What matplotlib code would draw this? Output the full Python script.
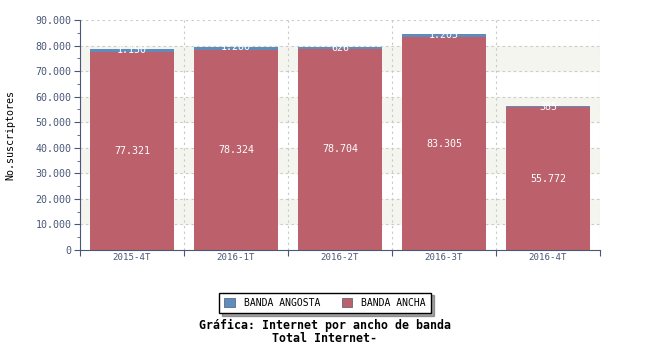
import matplotlib.pyplot as plt
import numpy as np
from matplotlib.ticker import FuncFormatter, MultipleLocator
from matplotlib.patches import Patch

periodos = ["2015-4T", "2016-1T", "2016-2T", "2016-3T", "2016-4T"]
banda_ancha = [77321, 78324, 78704, 83305, 55772]
banda_angosta = [1150, 1280, 626, 1205, 385]

rojo = "#bc616b"
azul = "#5f8cba"
eje = "#4a5878"
plt.rcParams['font.family'] = ['DejaVu Sans Mono']

fig = plt.figure(figsize=(6.5, 3.5), dpi=100)
ax = fig.add_axes([80/650, 1-250/350, 520/650, 230/350])

x = np.arange(len(periodos))
# franjas de fondo
for y0 in range(10000, 90000, 20000):
    ax.axhspan(y0, y0 + 10000, color="#f5f5f0", zorder=0)
ax.bar(x, banda_ancha, width=0.81, color=rojo, zorder=2)
ax.bar(x, banda_angosta, width=0.81, bottom=banda_ancha, color=azul, zorder=2)

fmt = lambda v: "{:,}".format(int(v)).replace(",", ".")
for i in range(len(x)):
    ax.text(x[i], banda_ancha[i] / 2, fmt(banda_ancha[i]), color="white",
            ha="center", va="center", fontsize=7.2, zorder=3)
    ax.text(x[i], banda_ancha[i] + banda_angosta[i] - 200, fmt(banda_angosta[i]),
            color="white", ha="center", va="center", fontsize=7.2, zorder=3)

ax.set_xlim(-0.5, len(x) - 0.5)
ax.set_ylim(0, 90000)
ax.yaxis.set_major_locator(MultipleLocator(10000))
ax.yaxis.set_minor_locator(MultipleLocator(5000))
ax.yaxis.set_major_formatter(FuncFormatter(lambda v, p: fmt(v)))
ax.set_xticks(np.arange(-0.5, len(x), 1))
ax.set_xticklabels([])
ax.set_xticks(x, minor=True)
ax.set_xticklabels(periodos, minor=True)
ax.tick_params(axis="x", which="minor", length=0, pad=2, labelsize=6.6, labelcolor=eje)
ax.tick_params(axis="x", which="major", length=4, color=eje, direction="out")
ax.tick_params(axis="y", which="major", length=4, color=eje, labelsize=7.2, labelcolor=eje, pad=2)
ax.tick_params(axis="y", which="minor", length=2, color=eje)

ax.grid(True, which="major", color="#c8c8c8", linestyle=(0, (2, 3)), linewidth=0.8, zorder=1)
ax.set_axisbelow(True)
for s in ["top", "right"]:
    ax.spines[s].set_visible(False)
for s in ["left", "bottom"]:
    ax.spines[s].set_color(eje)

fig.text(10/650, 1-135/350, "No.suscriptores", rotation=90, ha="center", va="center",
         fontsize=7.2, color="black")

handles = [Patch(facecolor=azul, edgecolor=eje, linewidth=0.5, label="BANDA ANGOSTA"),
           Patch(facecolor=rojo, edgecolor=eje, linewidth=0.5, label="BANDA ANCHA")]
leg = fig.legend(handles=handles, loc="center", bbox_to_anchor=(325/650, 1-303/350), ncol=2,
                 fontsize=7, frameon=True, fancybox=False, shadow=True, handlelength=1.1,
                 handleheight=1.1, columnspacing=2.2, handletextpad=0.9,
                 borderpad=0.55, borderaxespad=0, edgecolor="black")
leg.get_frame().set_linewidth(1.0)

fig.text(325/650, 1-325/350, "Gráfica: Internet por ancho de banda", ha="center", va="center",
         fontsize=8.4, fontweight="bold")
fig.text(325/650, 1-338/350, "Total Internet-", ha="center", va="center",
         fontsize=8.4, fontweight="bold")

fig.savefig("out.png", dpi=100)
